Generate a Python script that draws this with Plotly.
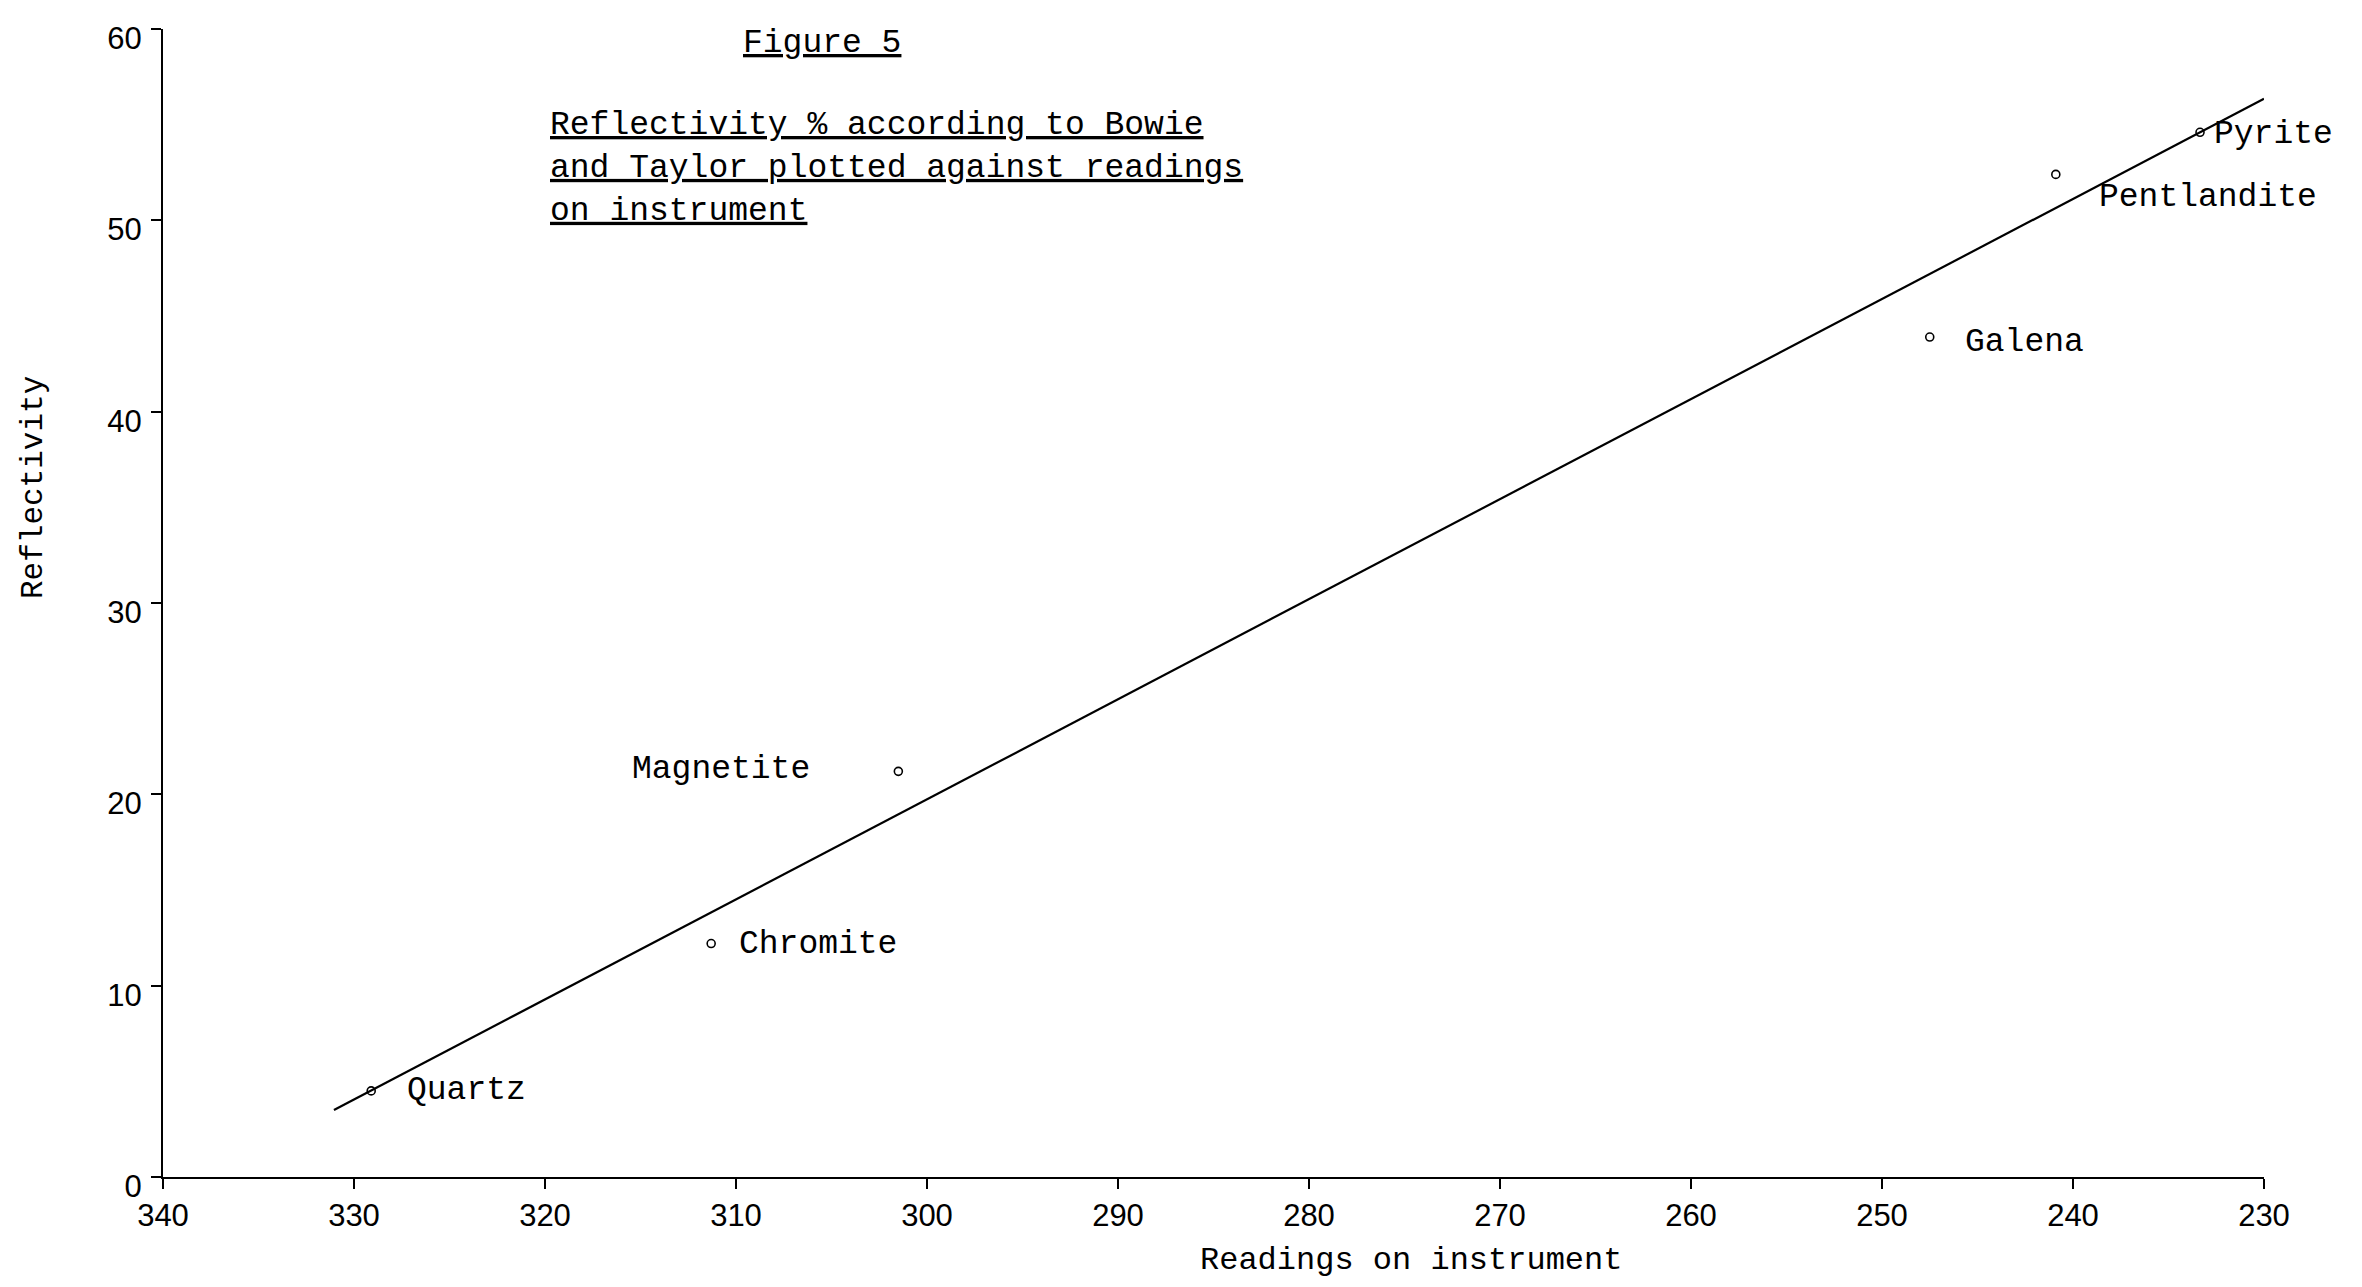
import plotly.graph_objects as go

# ---- data ----
minerals = ["Quartz", "Chromite", "Magnetite", "Galena", "Pentlandite", "Pyrite"]
readings = [329.1, 311.3, 301.5, 247.5, 240.9, 233.35]
reflectivity = [4.5, 12.2, 21.2, 43.9, 52.4, 54.6]

fit_x = [331.05, 230.0]
fit_y = [3.5, 56.35]

x_ticks = [340, 330, 320, 310, 300, 290, 280, 270, 260, 250, 240, 230]
y_ticks = [0, 10, 20, 30, 40, 50, 60]

TYPE = "Liberation Mono, Courier New, monospace"
TICKF = "Liberation Sans, DejaVu Sans, sans-serif"

# label placement (pixel offsets relative to each point)
label_style = {
    "Quartz": dict(xanchor="left", xshift=34, yshift=0),
    "Chromite": dict(xanchor="left", xshift=26, yshift=-1),
    "Magnetite": dict(xanchor="right", xshift=-86, yshift=2),
    "Galena": dict(xanchor="left", xshift=33, yshift=-5),
    "Pentlandite": dict(xanchor="left", xshift=41, yshift=-23),
    "Pyrite": dict(xanchor="left", xshift=12, yshift=-2),
}

fig = go.Figure()

fig.add_trace(go.Scatter(
    x=fit_x, y=fit_y, mode="lines",
    line=dict(color="black", width=2.2),
    hoverinfo="skip", showlegend=False,
))

fig.add_trace(go.Scatter(
    x=readings, y=reflectivity, mode="markers",
    marker=dict(symbol="circle-open", size=8, color="black", line=dict(width=1.6, color="black")),
    text=minerals, showlegend=False,
))

annotations = []
for name, xv, yv in zip(minerals, readings, reflectivity):
    st = label_style[name]
    annotations.append(dict(
        x=xv, y=yv, xref="x", yref="y", text=name, showarrow=False,
        yanchor="middle", font=dict(family=TYPE, size=33, color="black"), **st,
    ))

annotations += [
    dict(x=0.3137, y=0.9878, xref="paper", yref="paper", text="<u>Figure 5</u>",
         showarrow=False, xanchor="center", yanchor="middle",
         font=dict(family=TYPE, size=33, color="black")),
    dict(x=0.1832, y=0.8789, xref="paper", yref="paper",
         text="<u>Reflectivity % according to Bowie</u><br>"
              "<u>and Taylor plotted against readings</u><br>"
              "<u>on instrument</u>",
         showarrow=False, xanchor="left", yanchor="middle", align="left",
         font=dict(family=TYPE, size=33, color="black")),
    dict(x=0.594, y=-0.0723, xref="paper", yref="paper",
         text="Readings on instrument",
         showarrow=False, xanchor="center", yanchor="middle",
         font=dict(family=TYPE, size=32, color="black")),
    dict(x=-0.0619, y=0.601, xref="paper", yref="paper",
         text="Reflectivity", textangle=-90,
         showarrow=False, xanchor="center", yanchor="middle",
         font=dict(family=TYPE, size=31, color="black")),
]

# the page adds an 8px body margin, so the margins are reduced by 8px on the top/left
fig.update_layout(
    width=2362, height=1287,
    margin=dict(l=155, r=106, t=21, b=118),
    paper_bgcolor="white", plot_bgcolor="white",
    showlegend=False,
    annotations=annotations,
    xaxis=dict(
        range=[340, 230], tickmode="array", tickvals=x_ticks,
        ticktext=[str(v) for v in x_ticks],
        showline=True, linecolor="black", linewidth=2,
        ticks="outside", ticklen=10, tickwidth=2, tickcolor="black",
        showgrid=False, zeroline=False, automargin=False,
        tickfont=dict(family=TICKF, size=31, color="black"),
    ),
    yaxis=dict(
        range=[0, 60], tickmode="array", tickvals=y_ticks,
        ticktext=[str(v) for v in y_ticks],
        showline=True, linecolor="black", linewidth=2,
        ticks="outside", ticklen=10, tickwidth=2, tickcolor="black",
        showgrid=False, zeroline=False, automargin=False,
        ticklabelshift=9, ticklabelstandoff=3,
        tickfont=dict(family=TICKF, size=31, color="black"),
    ),
)

fig.write_html("out.html")
